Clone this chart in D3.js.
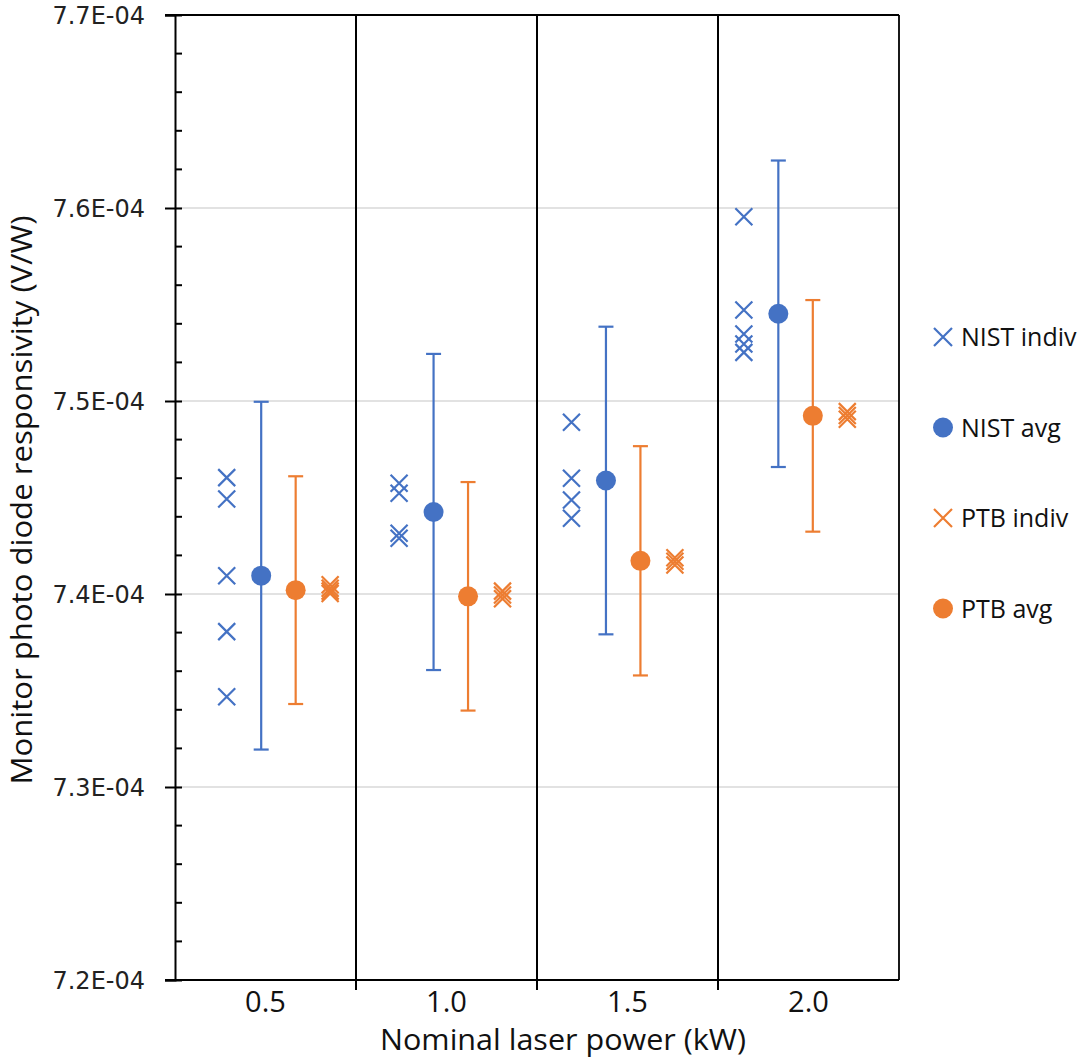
<!DOCTYPE html>
<html lang="en">
<head>
<meta charset="UTF-8">
<title>Monitor photo diode responsivity</title>
<script src="https://d3js.org/d3.v7.min.js"></script>
<style>
    body { margin: 0; background: #fff; }
    svg { display: block; }
    .tick-y { font-family: "DejaVu Sans", sans-serif; font-size: 24px; fill: #222; }
    .tick-x { font-family: "Open Sans", sans-serif; font-size: 29px; fill: #111; }
    .title { font-family: "Open Sans", sans-serif; font-size: 29px; fill: #111; }
    .legend_text { font-family: "Open Sans", sans-serif; font-size: 25px; fill: #111; }
</style>
</head>
<body>
<svg width="1089" height="1059"></svg>
<script>
    // categories (kW)
    const powerLabels = ["0.5", "1.0", "1.5", "2.0"];
    const powers = [0.5, 1.0, 1.5, 2.0];

    // values in V/W
    const nistIndiv = [
        [7.4603e-4, 7.4492e-4, 7.4095e-4, 7.3805e-4, 7.3468e-4],
        [7.4574e-4, 7.4522e-4, 7.4315e-4, 7.4289e-4],
        [7.4890e-4, 7.4600e-4, 7.4487e-4, 7.4392e-4],
        [7.5955e-4, 7.5472e-4, 7.5347e-4, 7.5295e-4, 7.5252e-4]
    ];
    const nistAvg = [7.4095e-4, 7.4425e-4, 7.4588e-4, 7.5452e-4];
    const nistErr = [0.0901e-4, 0.0819e-4, 0.0797e-4, 0.0794e-4];

    const ptbIndiv = [
        [7.4048e-4, 7.4030e-4, 7.4015e-4, 7.4003e-4],
        [7.4015e-4, 7.3995e-4, 7.3975e-4],
        [7.4188e-4, 7.4170e-4, 7.4150e-4],
        [7.4945e-4, 7.4925e-4, 7.4905e-4]
    ];
    const ptbAvg = [7.4020e-4, 7.3988e-4, 7.4172e-4, 7.4923e-4];
    const ptbErr = [0.0590e-4, 0.0592e-4, 0.0594e-4, 0.0600e-4];

    const yTicks = [7.2e-4, 7.3e-4, 7.4e-4, 7.5e-4, 7.6e-4, 7.7e-4];

    const blue = "#4472C4", orange = "#ED7D31";

    const svg = d3.select("svg");
    const plotL = 175, plotR = 899, plotT = 15, plotB = 980;

    const y = d3.scaleLinear().domain([7.2e-4, 7.7e-4]).range([plotB, plotT]);
    // category axis (labels / separators)
    const xCat = d3.scaleBand().domain(powerLabels).range([plotL, plotR]);
    // point positions within categories
    const xPt = d3.scaleLinear().domain([0.25, 2.35]).range([plotL, plotR]);

    function fmtE(v) {
        const s = v.toExponential(1).split("e");
        const exp = +s[1];
        const sign = exp < 0 ? "-" : "+";
        return s[0] + "E" + sign + String(Math.abs(exp)).padStart(2, "0");
    }

    // horizontal gridlines
    svg.append("g")
        .selectAll("line")
        .data(yTicks.slice(1, -1))
        .join("line")
        .attr("x1", plotL).attr("x2", plotR)
        .attr("y1", d => y(d)).attr("y2", d => y(d))
        .attr("stroke", "#d9d9d9").attr("stroke-width", 1.5);

    // category separators
    const seps = powerLabels.slice(1).map(d => xCat(d));
    svg.append("g")
        .selectAll("line")
        .data(seps)
        .join("line")
        .attr("x1", d => d).attr("x2", d => d)
        .attr("y1", plotT).attr("y2", plotB + 10)
        .attr("stroke", "#000").attr("stroke-width", 2);

    // plot border
    svg.append("line").attr("x1", plotL - 10).attr("x2", plotR).attr("y1", plotT).attr("y2", plotT)
        .attr("stroke", "#000").attr("stroke-width", 1.8);
    svg.append("line").attr("x1", plotR).attr("x2", plotR).attr("y1", plotT).attr("y2", plotB)
        .attr("stroke", "#000").attr("stroke-width", 1.8);
    svg.append("line").attr("x1", plotL - 10).attr("x2", plotR).attr("y1", plotB).attr("y2", plotB)
        .attr("stroke", "#000").attr("stroke-width", 2);

    // y axis with minor ticks
    const yAxis = d3.axisLeft(y).tickValues(yTicks).tickFormat(fmtE).tickSize(10).tickPadding(20);
    const gy = svg.append("g").attr("transform", `translate(${plotL},0)`).call(yAxis);
    gy.attr("font-size", null).attr("font-family", null);
    gy.select(".domain").attr("stroke", "#000").attr("stroke-width", 2);
    gy.selectAll(".tick line").attr("stroke", "#000").attr("stroke-width", 2)
        .attr("x2", -10).attr("x1", 7);
    gy.selectAll(".tick text").attr("class", "tick-y").attr("fill", null)
        .attr("dy", "0.36em");
    const minor = d3.range(0, 25).map(i => 7.2e-4 + i * 0.02e-4).filter((d, i) => i % 5 !== 0);
    svg.append("g").selectAll("line").data(minor).join("line")
        .attr("x1", plotL).attr("x2", plotL + 7)
        .attr("y1", d => y(d)).attr("y2", d => y(d))
        .attr("stroke", "#000").attr("stroke-width", 2);

    // x category labels
    svg.append("g").selectAll("text").data(powerLabels).join("text")
        .attr("class", "tick-x")
        .attr("x", d => xCat(d) + xCat.bandwidth() / 2)
        .attr("y", 1012)
        .attr("text-anchor", "middle")
        .text(d => d);

    // axis titles
    svg.append("text").attr("class", "title")
        .attr("x", 563).attr("y", 1050).attr("text-anchor", "middle")
        .attr("textLength", 366).attr("lengthAdjust", "spacingAndGlyphs")
        .text("Nominal laser power (kW)");
    svg.append("text").attr("class", "title")
        .attr("transform", "translate(32,500) rotate(-90)")
        .attr("text-anchor", "middle")
        .attr("textLength", 569).attr("lengthAdjust", "spacingAndGlyphs")
        .text("Monitor photo diode responsivity (V/W)");

    function crossPath(cx, cy, h) {
        return `M${cx - h},${cy - h}L${cx + h},${cy + h}M${cx - h},${cy + h}L${cx + h},${cy - h}`;
    }

    function errorBars(avg, err, offset, color) {
        const g = svg.append("g").attr("stroke", color).attr("stroke-width", 2.2);
        avg.forEach((v, i) => {
            const cx = xPt(powers[i] + offset);
            const y1 = y(v + err[i]), y2 = y(v - err[i]);
            g.append("line").attr("x1", cx).attr("x2", cx).attr("y1", y1).attr("y2", y2);
            g.append("line").attr("x1", cx - 7.5).attr("x2", cx + 7.5).attr("y1", y1).attr("y2", y1);
            g.append("line").attr("x1", cx - 7.5).attr("x2", cx + 7.5).attr("y1", y2).attr("y2", y2);
        });
    }

    function crosses(sets, offset, color) {
        const pts = [];
        sets.forEach((arr, i) => arr.forEach(v => pts.push([powers[i] + offset, v])));
        svg.append("g").selectAll("path").data(pts).join("path")
            .attr("d", d => crossPath(xPt(d[0]), y(d[1]), 8.5))
            .attr("stroke", color).attr("stroke-width", 2.2).attr("fill", "none");
    }

    function dots(avg, offset, color) {
        svg.append("g").selectAll("circle").data(avg).join("circle")
            .attr("cx", (d, i) => xPt(powers[i] + offset))
            .attr("cy", d => y(d))
            .attr("r", 10)
            .attr("fill", color);
    }

    errorBars(nistAvg, nistErr, 0, blue);
    errorBars(ptbAvg, ptbErr, 0.1, orange);
    crosses(nistIndiv, -0.1, blue);
    crosses(ptbIndiv, 0.2, orange);
    dots(nistAvg, 0, blue);
    dots(ptbAvg, 0.1, orange);

    // legend
    const legendItems = [
        { name: "NIST indiv", color: blue, type: "x" },
        { name: "NIST avg", color: blue, type: "o" },
        { name: "PTB indiv", color: orange, type: "x" },
        { name: "PTB avg", color: orange, type: "o" }
    ];
    const lg = svg.append("g").selectAll("g").data(legendItems).join("g")
        .attr("transform", (d, i) => `translate(943,${337 + i * 90.5})`);
    lg.filter(d => d.type === "x").append("path")
        .attr("d", crossPath(0, 0, 9))
        .attr("stroke", d => d.color).attr("stroke-width", 2.2).attr("fill", "none");
    lg.filter(d => d.type === "o").append("circle")
        .attr("r", 10).attr("fill", d => d.color);
    lg.append("text").attr("class", "legend_text")
        .attr("x", 18).attr("y", 0).attr("dy", "0.36em")
        .text(d => d.name);
</script>
</body>
</html>
